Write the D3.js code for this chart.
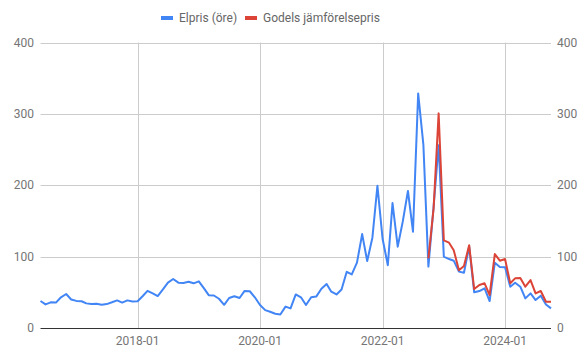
<!DOCTYPE html>
<html><head><meta charset="utf-8">
<script src="https://cdn.jsdelivr.net/npm/d3@7"></script>
<style>body{margin:0;background:#fff}svg{display:block;font-family:Roboto,Arial,sans-serif}</style>
</head><body><svg id="c" width="586" height="360"></svg>
<script>
const startMonth = "2016-06";
const endMonth = "2024-10";
const elpris = [37.8,33,36,35.6,43,47.6,40,38,37.5,34.5,33.5,34,32.6,33.5,36,38.7,35.6,38.7,37,37.5,
  44.8,52,48.5,44.8,54,63.5,68.6,63.5,63,64.7,62.6,65.4,55.6,46,45.5,41,32.5,42,44.5,42,52,51.5,43,
  32.2,25,22.8,20,19,30,27.5,47,43,32.2,43,44,55,61.6,50.9,47,54,78.8,75,91.5,131.6,93.8,126.5,199.3,
  124.6,88,175,114,149,192,135,328.7,257,86,170,256,100,96.6,94.3,79,77.5,114,50,51.8,55.6,37.8,
  91.5,85.4,85,57.9,63.5,57.9,41.5,48.5,39.2,45.3,33,27.5];
const godelsStart = "2022-10";
const godels = [97.6,167.6,300.7,122.8,119.5,109,81,86.8,116,54.6,60.2,62.6,46,103.6,94.3,96.6,62.6,
  69.6,70,57.9,67.2,48.5,51.8,36.8,36.8];
const yTicks = [0,100,200,300,400];
const xTickLabels = ["2018-01","2020-01","2022-01","2024-01"];
const seriesNames = ["Elpris (öre)","Godels jämförelsepris"];
const colors = ["#4285F4","#DB4437"];

const parse = d3.timeParse("%Y-%m");
const fmt = d3.timeFormat("%Y-%m");
const months = d3.timeMonth.range(parse(startMonth), d3.timeMonth.offset(parse(endMonth),1));
const s1 = months.map((d,i)=>({d, v: elpris[i]}));
const g0 = parse(godelsStart);
const s2 = godels.map((v,i)=>({d: d3.timeMonth.offset(g0,i), v}));

const svg = d3.select("#c");
const L=40.5, R=551, T=42.5, B=328;
const x = d3.scaleTime().domain([months[0], months[months.length-1]]).range([L,R]);
const y = d3.scaleLinear().domain([0,400]).range([B,T]);

svg.append("g").selectAll("line").data(yTicks.filter(t=>t>0)).join("line")
  .attr("x1",L).attr("x2",R).attr("y1",d=>Math.round(y(d))+0.5).attr("y2",d=>Math.round(y(d))+0.5)
  .attr("stroke","#ccc").attr("stroke-width",1);
const xt = xTickLabels.map(parse);
svg.append("g").selectAll("line").data(xt).join("line")
  .attr("x1",d=>Math.round(x(d))+0.5).attr("x2",d=>Math.round(x(d))+0.5).attr("y1",T).attr("y2",B)
  .attr("stroke","#ccc").attr("stroke-width",1);

const line = d3.line().x(d=>x(d.d)).y(d=>y(d.v));
svg.append("path").datum(s1).attr("d",line).attr("fill","none").attr("stroke",colors[0]).attr("stroke-width",2).attr("stroke-linejoin","round");
svg.append("path").datum(s2).attr("d",line).attr("fill","none").attr("stroke",colors[1]).attr("stroke-width",2).attr("stroke-linejoin","round");

svg.append("line").attr("x1",L).attr("x2",R).attr("y1",B+0.5).attr("y2",B+0.5).attr("stroke","#333").attr("stroke-width",1);

const ax = svg.append("g").attr("font-size",12).attr("fill","#757575");
ax.selectAll(".yl").data(yTicks).join("text").attr("x",34).attr("y",d=>y(d)).attr("dy","0.35em")
  .attr("text-anchor","end").text(d=>d);
ax.selectAll(".yr").data(yTicks).join("text").attr("x",557).attr("y",d=>y(d)).attr("dy","0.35em")
  .attr("text-anchor","start").text(d=>d);
ax.selectAll(".xl").data(xt).join("text").attr("x",d=>x(d)).attr("y",345)
  .attr("text-anchor","middle").text(d=>fmt(d));

const lg = svg.append("g").attr("font-size",12).attr("fill","#666");
const items = [{x:161,name:seriesNames[0],c:colors[0]},{x:245,name:seriesNames[1],c:colors[1]}];
items.forEach(it=>{
  lg.append("rect").attr("x",it.x).attr("y",16).attr("width",12).attr("height",4).attr("fill",it.c);
  lg.append("text").attr("x",it.x+18).attr("y",18).attr("dy","0.35em").text(it.name);
});
</script></body></html>
